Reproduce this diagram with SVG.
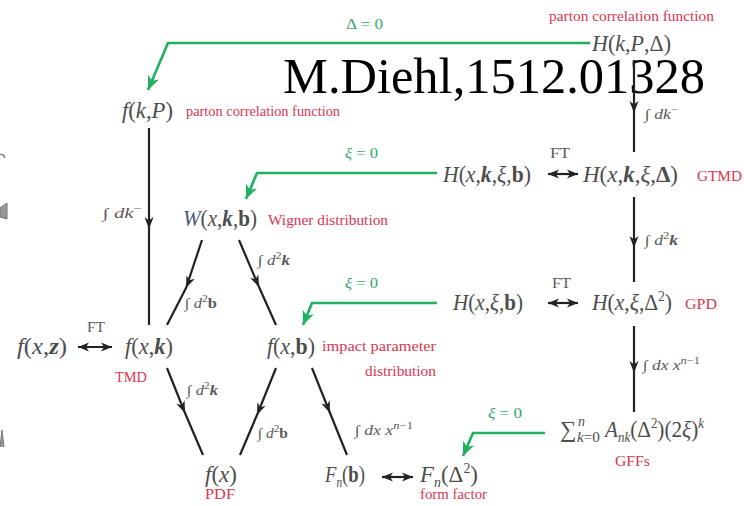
<svg xmlns="http://www.w3.org/2000/svg" width="744" height="506" viewBox="0 0 744 506" font-family="'Liberation Serif', 'DejaVu Serif', serif">
<defs>
<style>
text, tspan{font-family:"Liberation Serif","DejaVu Serif",serif}
.m{font-size:23px;fill:#4d4d4d}
.i{font-style:italic}
.b{font-style:italic;font-weight:bold}
.bu{font-weight:bold}
.l{font-size:14px;fill:#5a5a5a}
.r{font-size:14px;fill:#d9364f}
.g{font-size:14px;fill:#35a86a}
.ln{stroke:#222;stroke-width:2.2;fill:none}
.gl{stroke:#1fb060;stroke-width:2.6;fill:none}
.sm{font-size:10px}
.ms{font-size:14px}
.wm{font-size:50px;fill:#000}
.art{fill:#999;stroke:#777;stroke-width:1}
</style>
<marker id="mid" markerUnits="userSpaceOnUse" viewBox="-13 -6 14 12" markerWidth="14" markerHeight="12" refX="0" refY="0" orient="auto"><path d="M-12,-4.5 L0,0 L-12,4.5 L-8.5,0 Z" fill="#222"/></marker>
<marker id="dh" markerUnits="userSpaceOnUse" viewBox="-12 -6 13 12" markerWidth="13" markerHeight="12" refX="0" refY="0" orient="auto-start-reverse"><path d="M-11,-4.5 L0,0 L-11,4.5 L-8,0 Z" fill="#222"/></marker>
<marker id="gh" markerUnits="userSpaceOnUse" viewBox="-15 -8 16 16" markerWidth="16" markerHeight="16" refX="0" refY="0" orient="auto"><path d="M-14,-6 L0,0 L-14,6 L-10,0 Z" fill="#1fb060"/></marker>
</defs>
<rect width="744" height="506" fill="#fff"/>

<path class="art" d="M0,154 L4,155 L5,158" fill="none"/>
<path class="art" d="M0,208 L7,203 L7,219 L0,217 Z" fill="#ccc"/>
<path class="art" d="M0,447 L2,430 L4,447" fill="none"/>

<text class="wm" x="283" y="93" textLength="422" lengthAdjust="spacingAndGlyphs">M.Diehl,1512.01328</text>

<g id="connectors">
<polyline class="gl" points="590,43 168,43 148,90" marker-end="url(#gh)"/>
<polyline class="gl" points="437,173 257,173 246,199" marker-end="url(#gh)"/>
<polyline class="gl" points="437,303 312,303 303,325" marker-end="url(#gh)"/>
<polyline class="gl" points="545,433 473,433 463,456" marker-end="url(#gh)"/>
<polyline class="ln" points="634,60 634,113 634,152" marker-mid="url(#mid)"/>
<polyline class="ln" points="149,128 149,229 149,325" marker-mid="url(#mid)"/>
<polyline class="ln" points="634,197 634,248 634,282" marker-mid="url(#mid)"/>
<polyline class="ln" points="634,326 634,373 634,412" marker-mid="url(#mid)"/>
<polyline class="ln" points="202,240 186,288 167,325" marker-mid="url(#mid)"/>
<polyline class="ln" points="239,240 259,287 276,325" marker-mid="url(#mid)"/>
<polyline class="ln" points="167,368 185,413 203,455" marker-mid="url(#mid)"/>
<polyline class="ln" points="276,368 257,415 240,455" marker-mid="url(#mid)"/>
<polyline class="ln" points="312,368 330,413 347,455" marker-mid="url(#mid)"/>
<line class="ln" x1="548" y1="174" x2="578" y2="174" marker-start="url(#dh)" marker-end="url(#dh)"/>
<line class="ln" x1="548" y1="303" x2="578" y2="303" marker-start="url(#dh)" marker-end="url(#dh)"/>
<line class="ln" x1="78" y1="347" x2="112" y2="347" marker-start="url(#dh)" marker-end="url(#dh)"/>
<line class="ln" x1="382" y1="477" x2="413" y2="477" marker-start="url(#dh)" marker-end="url(#dh)"/>
</g>

<g id="labels">
<text class="g" x="346" y="29" textLength="37" lengthAdjust="spacingAndGlyphs">Δ = 0</text>
<text class="g" x="345" y="158" textLength="33" lengthAdjust="spacingAndGlyphs"><tspan class="i">ξ</tspan> = 0</text>
<text class="g" x="345" y="288" textLength="33" lengthAdjust="spacingAndGlyphs"><tspan class="i">ξ</tspan> = 0</text>
<text class="g" x="488" y="418" textLength="34" lengthAdjust="spacingAndGlyphs"><tspan class="i">ξ</tspan> = 0</text>
<text class="l" x="550" y="158" textLength="20" lengthAdjust="spacingAndGlyphs">FT</text>
<text class="l" x="552" y="288" textLength="19" lengthAdjust="spacingAndGlyphs">FT</text>
<text class="l" x="87" y="332" textLength="18" lengthAdjust="spacingAndGlyphs">FT</text>
<text class="l" x="645" y="119" textLength="33" lengthAdjust="spacingAndGlyphs">∫ <tspan class="i">dk</tspan><tspan class="sm" dy="-6">−</tspan></text>
<text class="l" x="103" y="218" textLength="39" lengthAdjust="spacingAndGlyphs">∫ <tspan class="i">dk</tspan><tspan class="sm" dy="-6">−</tspan></text>
<text class="l" x="645" y="245" textLength="33" lengthAdjust="spacingAndGlyphs">∫ <tspan class="i">d</tspan><tspan class="sm" dy="-6">2</tspan><tspan class="b" dy="6">k</tspan></text>
<text class="l" x="258" y="265" textLength="32" lengthAdjust="spacingAndGlyphs">∫ <tspan class="i">d</tspan><tspan class="sm" dy="-6">2</tspan><tspan class="b" dy="6">k</tspan></text>
<text class="l" x="185" y="308" textLength="32" lengthAdjust="spacingAndGlyphs">∫ <tspan class="i">d</tspan><tspan class="sm" dy="-6">2</tspan><tspan class="bu" dy="6">b</tspan></text>
<text class="l" x="187" y="395" textLength="31" lengthAdjust="spacingAndGlyphs">∫ <tspan class="i">d</tspan><tspan class="sm" dy="-6">2</tspan><tspan class="b" dy="6">k</tspan></text>
<text class="l" x="258" y="438" textLength="30" lengthAdjust="spacingAndGlyphs">∫ <tspan class="i">d</tspan><tspan class="sm" dy="-6">2</tspan><tspan class="bu" dy="6">b</tspan></text>
<text class="l" x="643" y="370" textLength="57" lengthAdjust="spacingAndGlyphs">∫ <tspan class="i">dx x</tspan><tspan class="sm" dy="-6"><tspan class="i">n</tspan>−1</tspan></text>
<text class="l" x="355" y="435" textLength="58" lengthAdjust="spacingAndGlyphs">∫ <tspan class="i">dx x</tspan><tspan class="sm" dy="-6"><tspan class="i">n</tspan>−1</tspan></text>
</g>

<g id="n-HkPD">
<text class="m" x="592" y="51" textLength="79" lengthAdjust="spacingAndGlyphs"><tspan class="i">H</tspan>(<tspan class="i">k</tspan>,<tspan class="i">P</tspan>,Δ)</text>
<text class="r" x="549" y="21" textLength="165" lengthAdjust="spacingAndGlyphs">parton correlation function</text>
</g>
<g id="n-fkP">
<text class="m" x="122" y="118" textLength="51" lengthAdjust="spacingAndGlyphs"><tspan class="i">f</tspan>(<tspan class="i">k</tspan>,<tspan class="i">P</tspan>)</text>
<text class="r" x="186" y="116" textLength="154" lengthAdjust="spacingAndGlyphs">parton correlation function</text>
</g>
<g id="n-W">
<text class="m" x="183" y="226" textLength="74" lengthAdjust="spacingAndGlyphs"><tspan class="i" fill="#4a5a80">W</tspan>(<tspan class="i">x</tspan>,<tspan class="b">k</tspan>,<tspan class="bu">b</tspan>)</text>
<text class="r" x="268" y="225" textLength="120" lengthAdjust="spacingAndGlyphs">Wigner distribution</text>
</g>
<g id="n-Hxkxb">
<text class="m" x="443" y="182" textLength="88" lengthAdjust="spacingAndGlyphs"><tspan class="i">H</tspan>(<tspan class="i">x</tspan>,<tspan class="b">k</tspan>,<tspan class="i">ξ</tspan>,<tspan class="bu">b</tspan>)</text>
</g>
<g id="n-HxkxD">
<text class="m" x="583" y="182" textLength="95" lengthAdjust="spacingAndGlyphs"><tspan class="i">H</tspan>(<tspan class="i">x</tspan>,<tspan class="b">k</tspan>,<tspan class="i">ξ</tspan>,<tspan class="bu">Δ</tspan>)</text>
<text class="r" x="697" y="181" textLength="45" lengthAdjust="spacingAndGlyphs">GTMD</text>
</g>
<g id="n-Hxxb">
<text class="m" x="453" y="310" textLength="70" lengthAdjust="spacingAndGlyphs"><tspan class="i">H</tspan>(<tspan class="i">x</tspan>,<tspan class="i">ξ</tspan>,<tspan class="bu">b</tspan>)</text>
</g>
<g id="n-HxxD">
<text class="m" x="592" y="310" textLength="80" lengthAdjust="spacingAndGlyphs"><tspan class="i">H</tspan>(<tspan class="i">x</tspan>,<tspan class="i">ξ</tspan>,Δ<tspan class="ms" dy="-9">2</tspan><tspan dy="9">)</tspan></text>
<text class="r" x="685" y="309" textLength="32" lengthAdjust="spacingAndGlyphs">GPD</text>
</g>
<g id="n-fxz">
<text class="m" x="17" y="354" textLength="50" lengthAdjust="spacingAndGlyphs"><tspan class="i">f</tspan>(<tspan class="i">x</tspan>,<tspan class="b">z</tspan>)</text>
</g>
<g id="n-fxk">
<text class="m" x="125" y="354" textLength="48" lengthAdjust="spacingAndGlyphs"><tspan class="i">f</tspan>(<tspan class="i">x</tspan>,<tspan class="b">k</tspan>)</text>
<text class="r" x="115" y="382" textLength="32" lengthAdjust="spacingAndGlyphs">TMD</text>
</g>
<g id="n-fxb">
<text class="m" x="267" y="354" textLength="48" lengthAdjust="spacingAndGlyphs"><tspan class="i">f</tspan>(<tspan class="i">x</tspan>,<tspan class="bu">b</tspan>)</text>
<text class="r" x="322" y="351" textLength="114" lengthAdjust="spacingAndGlyphs">impact parameter</text>
<text class="r" x="365" y="376" textLength="71" lengthAdjust="spacingAndGlyphs">distribution</text>
</g>
<g id="n-fx">
<text class="m" x="205" y="482" textLength="32" lengthAdjust="spacingAndGlyphs"><tspan class="i">f</tspan>(<tspan class="i">x</tspan>)</text>
<text class="r" x="205" y="499" textLength="30" lengthAdjust="spacingAndGlyphs">PDF</text>
</g>
<g id="n-Fnb">
<text class="m" x="325" y="482" textLength="40" lengthAdjust="spacingAndGlyphs"><tspan class="i">F</tspan><tspan class="ms i" dy="5">n</tspan><tspan dy="-5">(</tspan><tspan class="bu">b</tspan>)</text>
</g>
<g id="n-FnD">
<text class="m" x="420" y="482" textLength="58" lengthAdjust="spacingAndGlyphs"><tspan class="i">F</tspan><tspan class="ms i" dy="5">n</tspan><tspan dy="-5">(Δ</tspan><tspan class="ms" dy="-9">2</tspan><tspan dy="9">)</tspan></text>
<text class="r" x="420" y="499" textLength="67" lengthAdjust="spacingAndGlyphs">form factor</text>
</g>
<g id="n-GFF">
<text class="m" x="560" y="437" font-size="26">∑</text>
<text class="m ms i" x="578" y="426">n</text>
<text class="m ms" x="577" y="442" textLength="23" lengthAdjust="spacingAndGlyphs"><tspan class="i">k</tspan>=0</text>
<text class="m" x="605" y="437" textLength="99" lengthAdjust="spacingAndGlyphs"><tspan class="i">A</tspan><tspan class="ms i" dy="5">nk</tspan><tspan dy="-5">(Δ</tspan><tspan class="ms" dy="-9">2</tspan><tspan dy="9">)(2</tspan><tspan class="i">ξ</tspan>)<tspan class="ms i" dy="-9">k</tspan></text>
<text class="r" x="615" y="466" textLength="35" lengthAdjust="spacingAndGlyphs">GFFs</text>
</g>
</svg>
